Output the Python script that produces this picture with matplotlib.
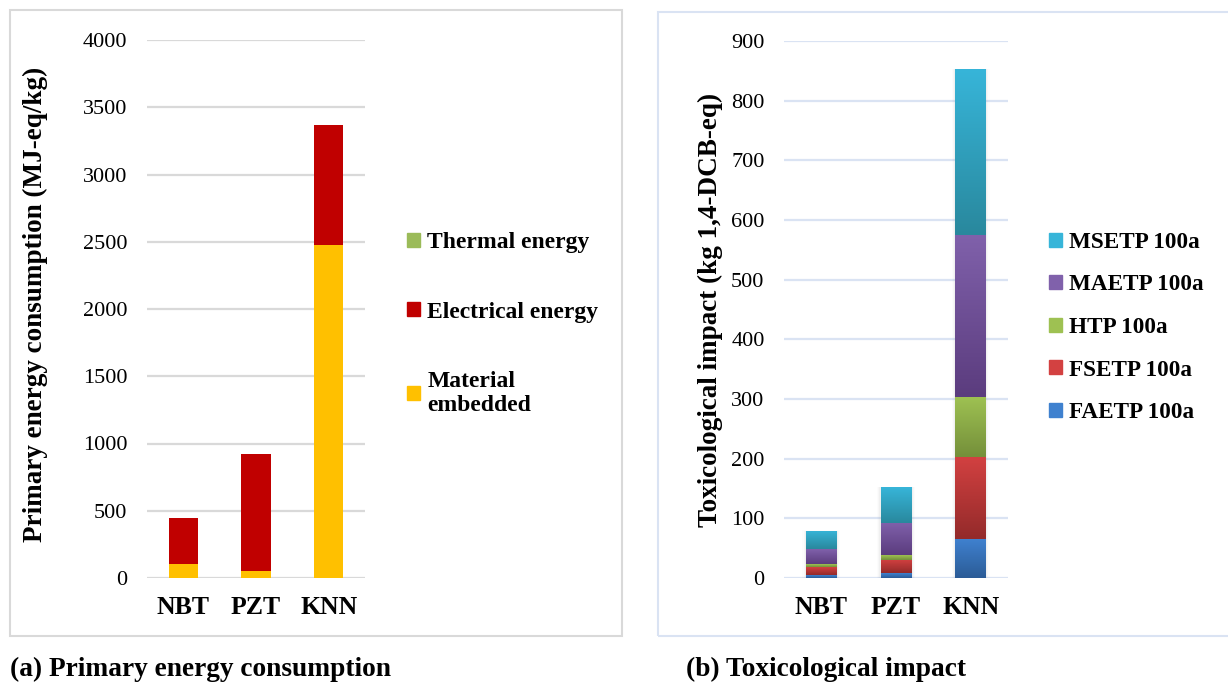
import numpy as np
import matplotlib
matplotlib.use('Agg')
import matplotlib.pyplot as plt
from matplotlib.patches import Rectangle, Patch
from matplotlib.colors import LinearSegmentedColormap

# ── 데이터 ────────────────────────────────────────────────
materials = ["NBT", "PZT", "KNN"]

# (a) primary energy (MJ-eq/kg)
energy_material   = [104, 52, 2476]
energy_electrical = [341, 870, 892]
energy_thermal    = [0, 0, 0]

# (b) toxicological impact (kg 1,4-DCB-eq)
tox_faetp = [5, 8, 65]
tox_fsetp = [13, 22, 138]
tox_htp   = [5, 8, 100]
tox_maetp = [25, 54, 272]
tox_msetp = [31, 60, 278]

energy_ticks = [0, 500, 1000, 1500, 2000, 2500, 3000, 3500, 4000]
tox_ticks = [0, 100, 200, 300, 400, 500, 600, 700, 800, 900]

# ── 스타일 ────────────────────────────────────────────────
plt.rcParams['font.family'] = ['Liberation Serif', 'DejaVu Serif']
W, H = 1228, 686
fig = plt.figure(figsize=(W / 100, H / 100), dpi=100)

def fx(px):
    return px / W

def fy(py):
    return 1 - py / H

# panel boxes
fig.patches.append(Rectangle((fx(10), fy(636)), fx(612), 626 / H,
                             transform=fig.transFigure, fill=False,
                             edgecolor="#d9d9d9", lw=1.5))
fig.patches.append(Rectangle((fx(658), fy(636)), fx(600), 624 / H,
                             transform=fig.transFigure, fill=False,
                             edgecolor="#dae3f3", lw=1.5))

ax1 = fig.add_axes([fx(147), fy(578), fx(218), 538 / H])
ax2 = fig.add_axes([fx(784), fy(578), fx(224), 537 / H])

x = np.arange(len(materials))

def style_axes(ax, ticks, grid_color):
    ax.set_xlim(-0.5, 2.5)
    ax.set_ylim(0, ticks[-1])
    ax.set_yticks(ticks)
    ax.set_xticks(x)
    ax.set_xticklabels(materials, fontsize=18.5, fontweight="bold")
    for lab in ax.get_yticklabels():
        lab.set_fontsize(16)
    for s in ax.spines.values():
        s.set_visible(False)
    ax.tick_params(axis="both", length=0)
    ax.tick_params(axis="y", pad=14)
    ax.tick_params(axis="x", pad=13)
    for t in ticks:
        ax.axhline(t, color=grid_color, lw=1.6, zorder=0)

# ── (a) ───────────────────────────────────────────────────
bw = 0.4
b_mat = np.array(energy_material, dtype=float)
b_ele = b_mat + np.array(energy_electrical)
h_mat = ax1.bar(x, energy_material, bw, color="#ffc000", zorder=2)
h_ele = ax1.bar(x, energy_electrical, bw, bottom=b_mat, color="#c00000", zorder=2)
h_th = ax1.bar(x, energy_thermal, bw, bottom=b_ele, color="#9bbb59", zorder=2)
style_axes(ax1, energy_ticks, "#d9d9d9")
ax1.set_ylabel("Primary energy consumption (MJ-eq/kg)", fontsize=19.5,
               fontweight="bold")
ax1.yaxis.set_label_coords(-0.456, 0.508)

leg1 = fig.legend([Patch(color="#9bbb59"), Patch(color="#c00000"), Patch(color="#ffc000")],
                  ["Thermal energy", "Electrical energy", "Material\nembedded"],
                  loc="upper left", bbox_to_anchor=(fx(386), fy(211)),
                  frameon=False, prop={"weight": "bold", "size": 17},
                  handlelength=0.55, handleheight=0.55, handletextpad=0.3,
                  labelspacing=2.05)

# ── (b) ───────────────────────────────────────────────────
tox_series = [tox_faetp, tox_fsetp, tox_htp, tox_maetp, tox_msetp]
tox_names = ["FAETP 100a", "FSETP 100a", "HTP 100a", "MAETP 100a", "MSETP 100a"]
tox_light = ["#3f81cf", "#d34141", "#9ec152", "#8061ab", "#37b5d9"]
tox_dark = ["#2b5b96", "#932a2a", "#748f3a", "#5b3c7e", "#29889d"]

bw2 = 0.415
totals = np.sum(tox_series, axis=0)
# soft shadow
for k, a in [(0.09, 0.025), (0.06, 0.035), (0.03, 0.05)]:
    ax2.bar(x, totals + 900 * k * 0.04, bw2 + k, bottom=-900 * k * 0.03,
            color="gray", alpha=a, lw=0, zorder=1)

bottom = np.zeros(len(materials))
grad = np.linspace(0, 1, 256).reshape(-1, 1)
for vals, lc, dc in zip(tox_series, tox_light, tox_dark):
    cmap = LinearSegmentedColormap.from_list("g", [dc, lc])
    bars = ax2.bar(x, vals, bw2, bottom=bottom, color="none", lw=0, zorder=2)
    for p in bars:
        x0, y0 = p.get_x(), p.get_y()
        w, h = p.get_width(), p.get_height()
        if h <= 0:
            continue
        im = ax2.imshow(grad, cmap=cmap, origin="lower", aspect="auto",
                        extent=[x0, x0 + w, y0, y0 + h], zorder=2)
        im.set_clip_path(p)
    bottom = bottom + np.array(vals)

style_axes(ax2, tox_ticks, "#dae3f3")
ax2.set_ylabel("Toxicological impact (kg 1,4-DCB-eq)", fontsize=19.5,
               fontweight="bold")
ax2.yaxis.set_label_coords(-0.272, 0.5)

handles2 = [Patch(color=c) for c in tox_light][::-1]
leg2 = fig.legend(handles2, tox_names[::-1],
                  loc="upper left", bbox_to_anchor=(fx(1028), fy(211)),
                  frameon=False, prop={"weight": "bold", "size": 16.7},
                  handlelength=0.55, handleheight=0.55, handletextpad=0.3,
                  labelspacing=0.93)

# ── 캡션 ─────────────────────────────────────────────────
fig.text(fx(10), fy(669), "(a) Primary energy consumption", fontsize=19.7,
         fontweight="bold", va="center", ha="left")
fig.text(fx(686), fy(669), "(b) Toxicological impact", fontsize=19.7,
         fontweight="bold", va="center", ha="left")

fig.savefig("out.png", dpi=100)
